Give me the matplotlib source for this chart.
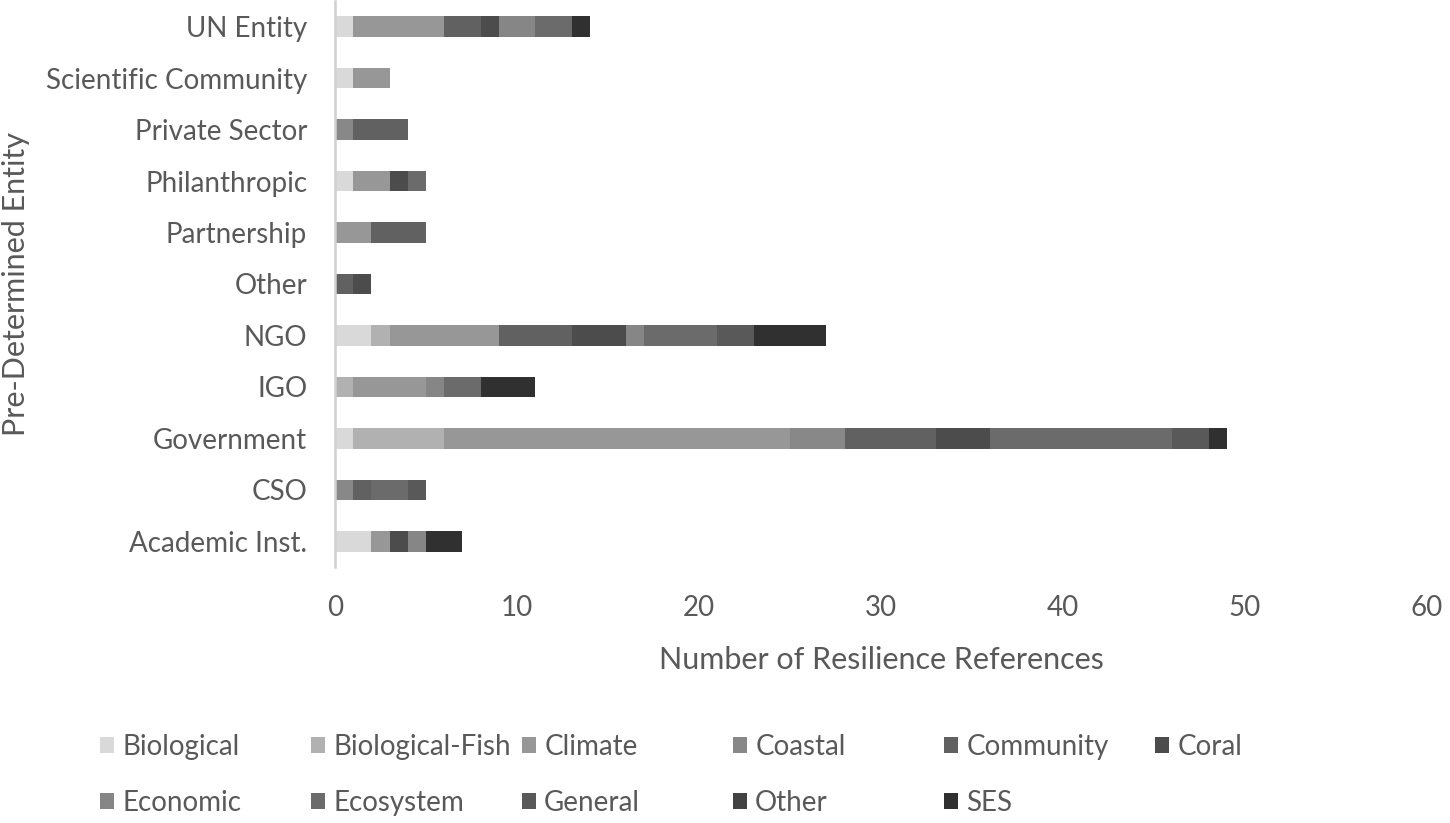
import numpy as np
import matplotlib
matplotlib.use("Agg")
from matplotlib import pyplot as plt

# Categorias (de baixo para cima)
entities = ["Academic Inst.", "CSO", "Government", "IGO", "NGO", "Other",
            "Partnership", "Philanthropic", "Private Sector",
            "Scientific Community", "UN Entity"]

series_names = ["Biological", "Biological-Fish", "Climate", "Coastal",
                "Community", "Coral", "Economic", "Ecosystem", "General",
                "Other", "SES"]

# valores, na mesma ordem de entities
biological      = [2, 0, 1, 0, 2, 0, 0, 1, 0, 1, 1]
biological_fish = [0, 0, 5, 1, 1, 0, 0, 0, 0, 0, 0]
climate         = [1, 0, 19, 4, 6, 0, 2, 2, 0, 2, 5]
coastal         = [0, 1, 3, 0, 0, 0, 0, 0, 1, 0, 0]
community       = [0, 1, 5, 0, 4, 1, 3, 0, 3, 0, 2]
coral           = [1, 0, 3, 0, 3, 1, 0, 1, 0, 0, 1]
economic        = [1, 0, 0, 1, 1, 0, 0, 0, 0, 0, 2]
ecosystem       = [0, 2, 10, 2, 4, 0, 0, 1, 0, 0, 2]
general         = [0, 1, 2, 0, 2, 0, 0, 0, 0, 0, 0]
other           = [0, 0, 0, 0, 0, 0, 0, 0, 0, 0, 0]
ses             = [2, 0, 1, 3, 4, 0, 0, 0, 0, 0, 1]

series_values = [biological, biological_fish, climate, coastal, community,
                 coral, economic, ecosystem, general, other, ses]

colors = ["#d9d9d9", "#b1b1b1", "#979797", "#888888", "#616161", "#4c4c4c",
          "#868686", "#6b6b6b", "#595959", "#434343", "#303030"]

x_ticks = [0, 10, 20, 30, 40, 50, 60]

TEXT = "#595959"
FONT = ["Lato", "DejaVu Sans"]
plt.rcParams["font.family"] = FONT

W, H = 1450, 823
fig = plt.figure(figsize=(W / 100, H / 100), dpi=100)
ax = fig.add_axes([335 / W, 1 - 567 / H, (1427 - 335) / W, 566 / H])

y = np.arange(len(entities))
left = np.zeros(len(entities))
handles = []
for name, vals, c in zip(series_names, series_values, colors):
    vals = np.array(vals, dtype=float)
    h = ax.barh(y, vals, left=left, height=0.4, color=c, label=name,
                edgecolor="none")
    handles.append(h)
    left = left + vals

ax.set_xlim(0, 60)
ax.set_ylim(-0.5, len(entities) - 0.5)
ax.set_xticks(x_ticks)
ax.set_yticks(y)
ax.set_yticklabels(entities)

for s in ["top", "right", "bottom"]:
    ax.spines[s].set_visible(False)
ax.spines["left"].set_color("#d0d0d0")
ax.spines["left"].set_linewidth(1.8)

ax.tick_params(axis="both", length=0, labelsize=20, colors=TEXT)
ax.tick_params(axis="y", pad=20)
ax.tick_params(axis="x", pad=20)

ax.set_xlabel("Number of Resilience References", fontsize=22, color=TEXT)
ax.set_ylabel("Pre-Determined Entity", fontsize=22, color=TEXT)
ax.xaxis.set_label_coords(0.5, -(646 - 567) / 566)
ax.yaxis.set_label_coords((30 - 335) / 1092, 0.5)

# legenda: colunas com largura igual, como no Excel
col_x = [100 + i * 211 for i in range(6)]
for i, x0 in enumerate(col_x):
    idx = [j for j in (i, i + 6) if j < len(series_names)]
    fig.legend([handles[j] for j in idx], [series_names[j] for j in idx],
               loc="upper left", bbox_to_anchor=(x0 / W, 1 - 734 / H),
               frameon=False, fontsize=20, labelcolor=TEXT,
               borderpad=0, borderaxespad=0,
               handlelength=0.5, handleheight=0.5, handletextpad=0.3,
               labelspacing=1.08)

fig.savefig("out.png", dpi=100)
